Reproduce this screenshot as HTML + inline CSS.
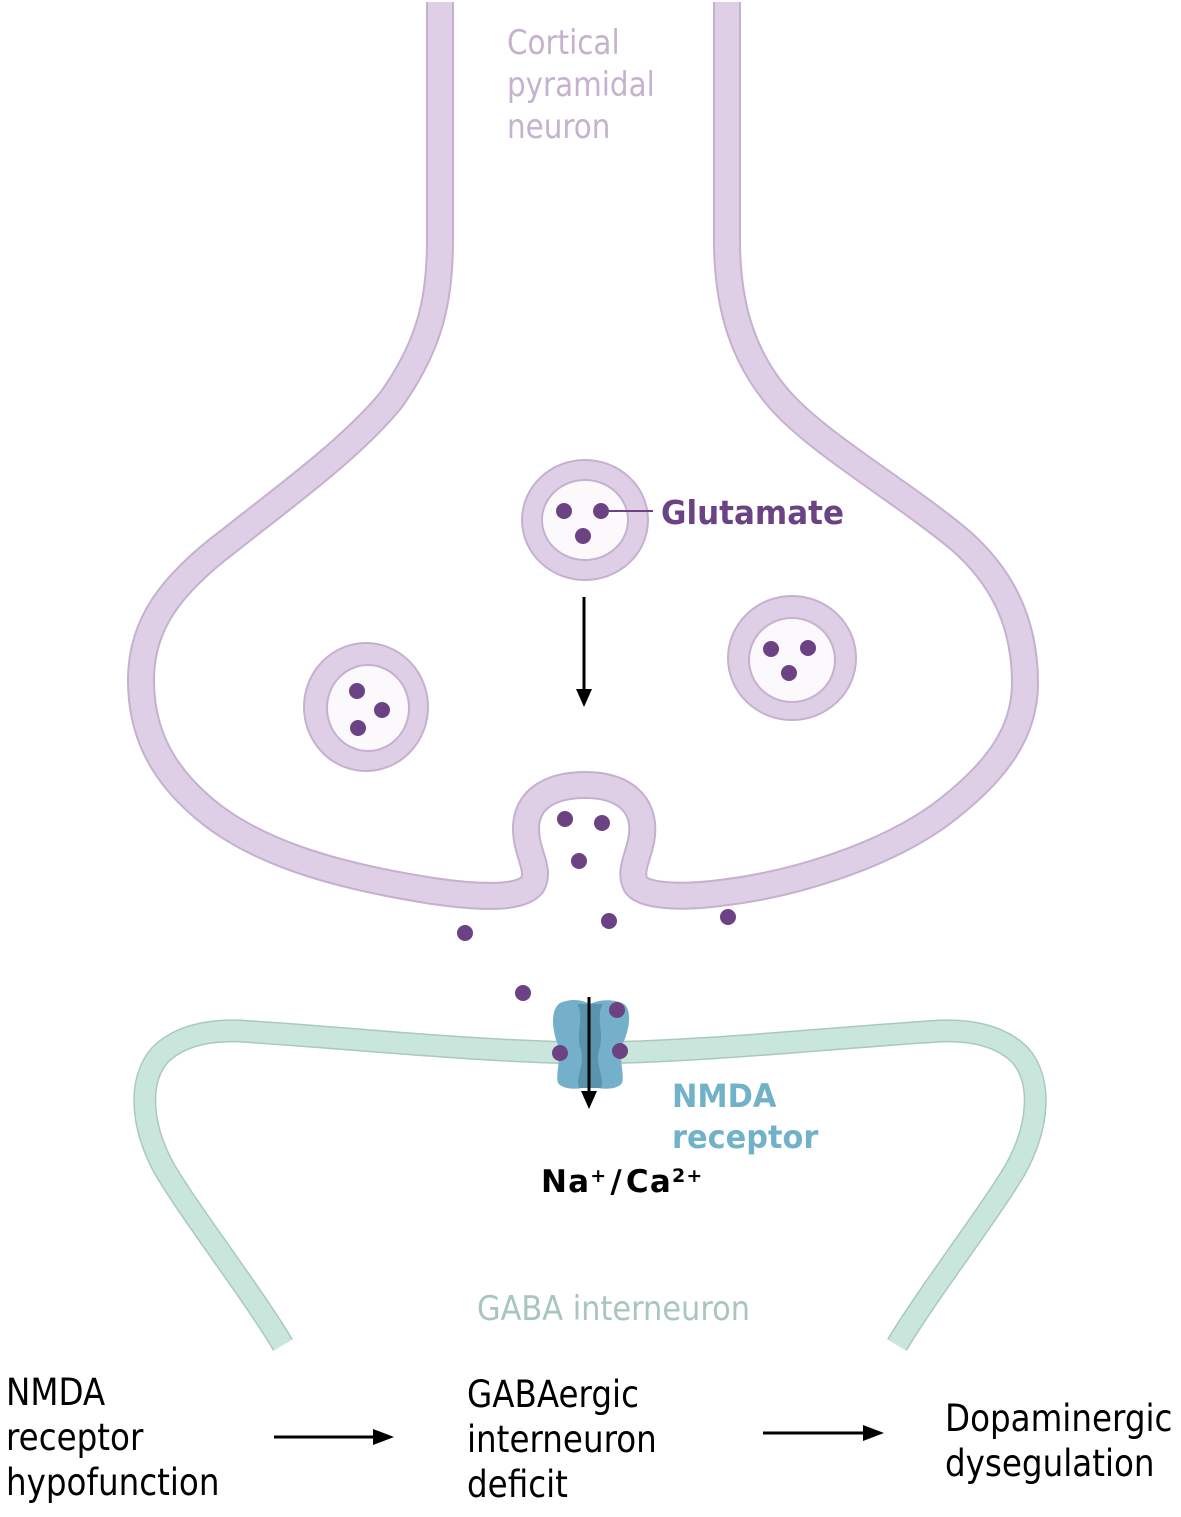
<!DOCTYPE html>
<html>
<head>
<meta charset="utf-8">
<style>
  html, body { margin: 0; padding: 0; background: #ffffff; }
  svg { display: block; }
  text { font-family: "DejaVu Sans", "Liberation Sans", sans-serif; }
</style>
</head>
<body>
<svg width="1181" height="1517" viewBox="0 0 1181 1517" xmlns="http://www.w3.org/2000/svg">
  <!-- Pyramidal neuron membrane -->
  <path d="M 440 2 L 440 240
    C 440 300, 430 345, 391 400
    C 350 450, 280 500, 230 540
    C 170 585, 141 625, 141 680
    C 141 730, 160 770, 200 805
    C 250 850, 330 875, 433 891
    C 475 897, 520 900, 532 885
    C 540 872, 530 858, 527 840
    C 520 800, 550 785, 585 785
    C 625 785, 645 805, 642 835
    C 640 855, 628 870, 636 885
    C 645 898, 690 897, 720 893
    C 790 885, 880 858, 940 815
    C 1000 770, 1025 730, 1025 683
    C 1025 620, 1000 575, 960 540
    C 900 490, 820 445, 780 400
    C 745 360, 727 310, 727 240
    L 727 2"
    fill="none" stroke="#c5b1cf" stroke-width="28" stroke-linejoin="round"/>
  <path d="M 440 2 L 440 240
    C 440 300, 430 345, 391 400
    C 350 450, 280 500, 230 540
    C 170 585, 141 625, 141 680
    C 141 730, 160 770, 200 805
    C 250 850, 330 875, 433 891
    C 475 897, 520 900, 532 885
    C 540 872, 530 858, 527 840
    C 520 800, 550 785, 585 785
    C 625 785, 645 805, 642 835
    C 640 855, 628 870, 636 885
    C 645 898, 690 897, 720 893
    C 790 885, 880 858, 940 815
    C 1000 770, 1025 730, 1025 683
    C 1025 620, 1000 575, 960 540
    C 900 490, 820 445, 780 400
    C 745 360, 727 310, 727 240
    L 727 2"
    fill="none" stroke="#dfcfe6" stroke-width="24" stroke-linejoin="round"/>

  <!-- Vesicles -->
  <ellipse cx="585" cy="520" rx="63" ry="60" fill="#dfcfe6" stroke="#c5b1cf" stroke-width="2"/>
  <ellipse cx="585" cy="520" rx="43" ry="40" fill="#fcf9fd" stroke="#c5b1cf" stroke-width="2"/>
  <ellipse cx="792" cy="658" rx="64" ry="62" fill="#dfcfe6" stroke="#c5b1cf" stroke-width="2"/>
  <ellipse cx="792" cy="660" rx="43" ry="42" fill="#fcf9fd" stroke="#c5b1cf" stroke-width="2"/>
  <ellipse cx="366" cy="707" rx="62" ry="64" fill="#dfcfe6" stroke="#c5b1cf" stroke-width="2"/>
  <ellipse cx="368" cy="708" rx="41" ry="43" fill="#fcf9fd" stroke="#c5b1cf" stroke-width="2"/>

  <!-- Glutamate dots -->
  <g fill="#6b4384">
    <circle cx="564" cy="511" r="8"/>
    <circle cx="601" cy="511" r="8"/>
    <circle cx="583" cy="536" r="8"/>
    <circle cx="771" cy="649" r="8"/>
    <circle cx="808" cy="648" r="8"/>
    <circle cx="789" cy="673" r="8"/>
    <circle cx="357" cy="691" r="8"/>
    <circle cx="382" cy="710" r="8"/>
    <circle cx="358" cy="728" r="8"/>
    <circle cx="565" cy="819" r="8"/>
    <circle cx="602" cy="823" r="8"/>
    <circle cx="579" cy="861" r="8"/>
    <circle cx="465" cy="933" r="8"/>
    <circle cx="609" cy="921" r="8"/>
    <circle cx="728" cy="917" r="8"/>
    <circle cx="523" cy="993" r="8"/>
  </g>
  <line x1="601" y1="511" x2="653" y2="511" stroke="#6b4384" stroke-width="2"/>

  <!-- Vertical arrow in presynaptic -->
  <line x1="584" y1="597" x2="584" y2="692" stroke="#000" stroke-width="3"/>
  <polygon points="576,689 592,689 584,707" fill="#000"/>

  <!-- GABA interneuron membrane -->
  <path d="M 283 1345 C 250 1290, 195 1220, 165 1170
    C 140 1125, 138 1080, 160 1055
    C 180 1035, 210 1030, 240 1031
    C 350 1038, 480 1052, 590 1053
    C 700 1052, 830 1038, 940 1031
    C 970 1030, 1000 1035, 1020 1055
    C 1042 1080, 1040 1125, 1015 1170
    C 985 1220, 930 1290, 897 1345"
    fill="none" stroke="#a9c9be" stroke-width="23" stroke-linejoin="round"/>
  <path d="M 283 1345 C 250 1290, 195 1220, 165 1170
    C 140 1125, 138 1080, 160 1055
    C 180 1035, 210 1030, 240 1031
    C 350 1038, 480 1052, 590 1053
    C 700 1052, 830 1038, 940 1031
    C 970 1030, 1000 1035, 1020 1055
    C 1042 1080, 1040 1125, 1015 1170
    C 985 1220, 930 1290, 897 1345"
    fill="none" stroke="#c9e6dd" stroke-width="20" stroke-linejoin="round"/>

  <!-- NMDA receptor -->
  <path d="M 560 1003 C 572 998, 582 1000, 590 1004 C 598 1000, 612 998, 624 1004
    C 632 1010, 630 1030, 622 1045 C 618 1055, 625 1075, 622 1083
    C 618 1090, 600 1090, 590 1086 C 580 1090, 563 1090, 558 1083
    C 555 1075, 562 1055, 558 1045 C 552 1030, 550 1010, 560 1003 Z" fill="#74b0c9"/>
  <path d="M 577 1004 C 585 1015, 575 1035, 581 1050 C 585 1065, 575 1078, 579 1088
    L 601 1088 C 605 1078, 595 1065, 599 1050 C 605 1035, 595 1015, 603 1004 Z" fill="#5a93ae"/>
  <line x1="589" y1="997" x2="589" y2="1094" stroke="#000" stroke-width="3"/>
  <polygon points="581,1091 597,1091 589,1109" fill="#000"/>
  <g fill="#6b4384">
    <circle cx="617" cy="1010" r="8"/>
    <circle cx="560" cy="1053" r="8"/>
    <circle cx="620" cy="1051" r="8"/>
  </g>

  <!-- Labels -->
  <g fill="#c5b2cf" font-size="34">
    <text transform="translate(507,54) scale(0.865,1)">Cortical</text>
    <text transform="translate(507,96) scale(0.865,1)">pyramidal</text>
    <text transform="translate(507,138) scale(0.865,1)">neuron</text>
  </g>
  <text transform="translate(661,524) scale(0.94,1)" font-size="33" font-weight="bold" fill="#6b4384">Glutamate</text>
  <g fill="#72b1ca" font-size="32" font-weight="bold">
    <text transform="translate(672,1107) scale(0.95,1)">NMDA</text>
    <text transform="translate(672,1148) scale(0.95,1)">receptor</text>
  </g>
  <text transform="translate(541,1192)" font-size="31" font-weight="bold" fill="#000" letter-spacing="1.2">Na<tspan font-size="19" dy="-10">+</tspan><tspan dy="10" dx="3">/</tspan><tspan dx="3">Ca</tspan><tspan font-size="19" dy="-10">2+</tspan></text>
  <text transform="translate(477,1320) scale(0.895,1)" font-size="34" fill="#a9c6ba">GABA interneuron</text>

  <!-- Bottom flow -->
  <g fill="#000" font-size="37">
    <text transform="translate(6,1405) scale(0.88,1)">NMDA</text>
    <text transform="translate(6,1450) scale(0.88,1)">receptor</text>
    <text transform="translate(6,1495) scale(0.88,1)">hypofunction</text>
    <text transform="translate(467,1407) scale(0.88,1)">GABAergic</text>
    <text transform="translate(467,1452) scale(0.88,1)">interneuron</text>
    <text transform="translate(467,1497) scale(0.88,1)">deficit</text>
    <text transform="translate(945,1431) scale(0.88,1)">Dopaminergic</text>
    <text transform="translate(945,1476) scale(0.88,1)">dysegulation</text>
  </g>
  <line x1="274" y1="1437" x2="376" y2="1437" stroke="#000" stroke-width="3"/>
  <polygon points="373,1429 394,1437 373,1445" fill="#000"/>
  <line x1="763" y1="1433" x2="866" y2="1433" stroke="#000" stroke-width="3"/>
  <polygon points="863,1425 884,1433 863,1441" fill="#000"/>
</svg>
</body>
</html>
